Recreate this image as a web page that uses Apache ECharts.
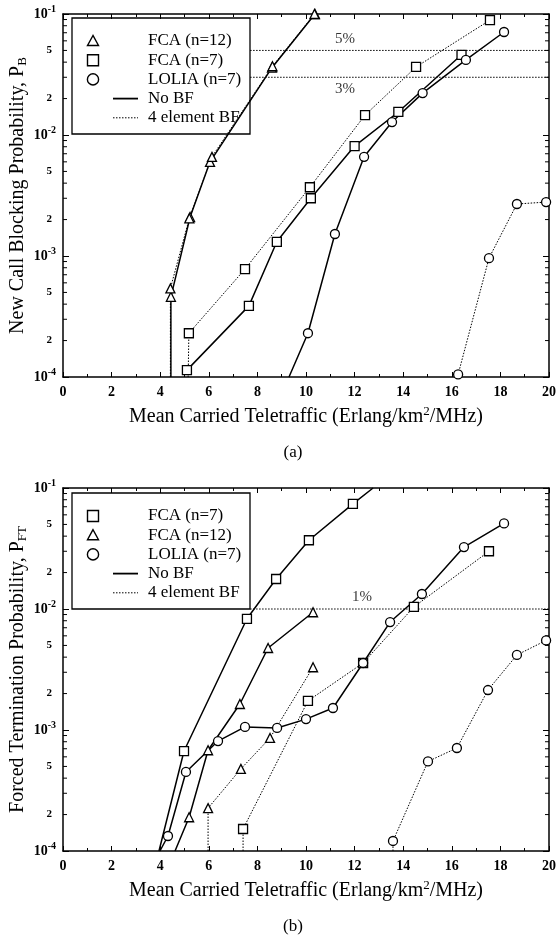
<!DOCTYPE html>
<html>
<head>
<meta charset="utf-8">
<script src="https://cdn.jsdelivr.net/npm/echarts@6/dist/echarts.min.js"></script>
<style>
html,body{margin:0;padding:0;background:#fff;}
#c{width:556px;height:940px;}
</style>
</head>
<body>
<div id="c"></div>
<script>
// ---------- data ----------
const xTicks = [0, 2, 4, 6, 8, 10, 12, 14, 16, 18, 20];
const minorMantissas = [2, 3, 4, 5, 6, 7, 8, 9];
const labelledMantissas = [2, 5];
const decades = [1e-4, 1e-3, 1e-2];

// (a) New call blocking probability, [x, P_B, marker(1)/no marker(0)]
const a_fca12_noBF = [[4.44, 1e-4, 0], [4.44, 4.6e-4, 1], [5.23, 2.1e-3, 1], [6.05, 6.0e-3, 1], [8.6, 3.6e-2, 1], [10.37, 0.1, 1]];
const a_fca12_BF   = [[4.42, 1e-4, 0], [4.42, 5.4e-4, 1], [5.2, 2.05e-3, 1], [6.13, 6.6e-3, 1], [8.62, 3.7e-2, 1], [10.35, 0.1, 1]];
const a_fca7_noBF  = [[5.1, 1.14e-4, 1], [7.65, 3.87e-4, 1], [8.8, 1.31e-3, 1], [10.2, 3.0e-3, 1], [12.0, 8.1e-3, 1], [13.8, 1.55e-2, 1], [16.4, 4.6e-2, 1]];
const a_fca7_BF    = [[5.15, 1e-4, 0], [5.18, 2.3e-4, 1], [7.49, 7.8e-4, 1], [10.16, 3.7e-3, 1], [12.43, 1.46e-2, 1], [14.53, 3.65e-2, 1], [17.57, 8.9e-2, 1]];
const a_lolia_noBF = [[9.3, 1e-4, 0], [10.08, 2.3e-4, 1], [11.19, 1.52e-3, 1], [12.39, 6.6e-3, 1], [13.54, 1.28e-2, 1], [14.8, 2.22e-2, 1], [16.58, 4.17e-2, 1], [18.15, 7.1e-2, 1]];
const a_lolia_BF   = [[16.26, 1.05e-4, 1], [17.53, 9.6e-4, 1], [18.68, 2.69e-3, 1], [19.88, 2.79e-3, 1]];
const a_refLevels = [0.05, 0.03];
const a_refLabels = ['5%', '3%'];
const a_refStartX = 7.7;
const a_refLabelX = 11.6;

// (b) Forced termination probability, [x, P_FT, marker]
const b_fca7_noBF  = [[3.95, 1e-4, 0], [4.98, 6.7e-4, 1], [7.57, 8.3e-3, 1], [8.77, 1.77e-2, 1], [10.12, 3.7e-2, 1], [11.93, 7.4e-2, 1], [12.76, 0.1, 0]];
const b_fca7_BF    = [[7.41, 1e-4, 0], [7.41, 1.52e-4, 1], [10.08, 1.74e-3, 1], [12.35, 3.58e-3, 1], [14.44, 1.04e-2, 1], [17.53, 3.0e-2, 1]];
const b_fca12_noBF = [[4.61, 1e-4, 0], [5.19, 1.9e-4, 1], [5.97, 6.8e-4, 1], [7.28, 1.64e-3, 1], [8.44, 4.76e-3, 1], [10.29, 9.4e-3, 1]];
const b_fca12_BF   = [[5.97, 1e-4, 0], [5.97, 2.26e-4, 1], [7.32, 4.77e-4, 1], [8.52, 8.6e-4, 1], [10.29, 3.3e-3, 1]];
const b_lolia_noBF = [[3.99, 1e-4, 0], [4.32, 1.33e-4, 1], [5.06, 4.5e-4, 1], [6.38, 8.1e-4, 1], [7.49, 1.06e-3, 1], [8.81, 1.04e-3, 1], [10.0, 1.23e-3, 1], [11.11, 1.52e-3, 1], [12.35, 3.58e-3, 1], [13.46, 7.8e-3, 1], [14.77, 1.33e-2, 1], [16.5, 3.25e-2, 1], [18.15, 5.1e-2, 1]];
const b_lolia_BF   = [[13.58, 1e-4, 0], [13.58, 1.21e-4, 1], [15.02, 5.5e-4, 1], [16.21, 7.1e-4, 1], [17.49, 2.14e-3, 1], [18.68, 4.17e-3, 1], [19.88, 5.5e-3, 1]];
const b_refLevels = [0.01];
const b_refLabels = ['1%'];
const b_refStartX = 7.7;
const b_refLabelX = 12.3;

// legends
const legendA = ['FCA (n=12)', 'FCA (n=7)', 'LOLIA (n=7)', 'No BF', '4 element BF'];
const legendAIcons = ['triangle', 'rect', 'circle', 'solid', 'dotted'];
const legendB = ['FCA (n=7)', 'FCA (n=12)', 'LOLIA (n=7)', 'No BF', '4 element BF'];
const legendBIcons = ['rect', 'triangle', 'circle', 'solid', 'dotted'];

// ---------- chart ----------
const SERIF = '"Liberation Serif", "DejaVu Serif", serif';
const chart = echarts.init(document.getElementById('c'), null, {renderer: 'canvas'});

const grids = [
  {left: 63, top: 14, width: 486, height: 363, containLabel: false, outerBoundsMode: 'none'},
  {left: 63, top: 488, width: 486, height: 363, containLabel: false, outerBoundsMode: 'none'}
];

function xAxisPair(gi, title) {
  const common = {
    type: 'value', gridIndex: gi, min: 0, max: 20, interval: 2,
    axisLine: {show: true, onZero: false, lineStyle: {color: '#000', width: 1.5}},
    axisTick: {show: true, inside: true, length: 5, lineStyle: {color: '#000', width: 1}},
    minorTick: {show: true, splitNumber: 2, length: 3, lineStyle: {color: '#000', width: 1}},
    splitLine: {show: false}
  };
  return [
    Object.assign({}, common, {
      position: 'bottom',
      axisLabel: {show: true, margin: 8, color: '#000', fontFamily: SERIF, fontSize: 14, fontWeight: 'bold',
        formatter: function (v) { return xTicks.indexOf(v) >= 0 ? String(v) : ''; }},
      name: title, nameLocation: 'middle', nameGap: 28, nameMoveOverlap: false,
      nameTextStyle: {color: '#000', fontFamily: SERIF, fontSize: 20,
        rich: {n: {fontFamily: SERIF, fontSize: 20, color: '#000'},
               s: {fontFamily: SERIF, fontSize: 13, color: '#000', padding: [0, 0, 10, 0]}}}
    }),
    Object.assign({}, common, {position: 'top', axisLabel: {show: false}})
  ];
}
function yAxisPair(gi, title) {
  const common = {
    type: 'log', logBase: 10, gridIndex: gi, min: 1e-4, max: 1e-1,
    axisLine: {show: true, onZero: false, lineStyle: {color: '#000', width: 1.5}},
    axisTick: {show: true, inside: true, length: 6, lineStyle: {color: '#000', width: 1}},
    splitLine: {show: false}
  };
  return [
    Object.assign({}, common, {
      position: 'left',
      axisLabel: {show: true, margin: 7, color: '#000',
        formatter: function (v) { return '{b|10}{s|' + Math.round(Math.log10(v)) + '}'; },
        rich: {b: {fontFamily: SERIF, fontSize: 14, fontWeight: 'bold', color: '#000'},
               s: {fontFamily: SERIF, fontSize: 10, fontWeight: 'bold', color: '#000', padding: [0, 0, 9, 0]}}},
      name: title, nameLocation: 'middle', nameGap: 34, nameRotate: 90, nameMoveOverlap: false,
      nameTextStyle: {color: '#000', fontFamily: SERIF, fontSize: 20,
        rich: {n: {fontFamily: SERIF, fontSize: 20, color: '#000'},
               sub: {fontFamily: SERIF, fontSize: 13, color: '#000', padding: [9, 0, 0, 0]}}}
    }),
    Object.assign({}, common, {position: 'right', axisLabel: {show: false}})
  ];
}

const xTitle = '{n|Mean Carried Teletraffic (Erlang/km}{s|2}{n|/MHz)}';
const xAxes = xAxisPair(0, xTitle).concat(xAxisPair(1, xTitle));
const yAxes = yAxisPair(0, '{n|New Call Blocking Probability, P}{sub|B}')
  .concat(yAxisPair(1, '{n|Forced Termination Probability, P}{sub|FT}'));

const symMap = {tri: 'triangle', sq: 'rect', ci: 'circle'};
function lineSeries(pts, sym, dotted, axisIdx) {
  return {
    type: 'line', xAxisIndex: axisIdx, yAxisIndex: axisIdx,
    data: pts.map(p => ({value: [p[0], p[1]], symbol: p[2] ? symMap[sym] : 'none'})),
    symbolSize: 9,
    showAllSymbol: true,
    lineStyle: {color: '#000', width: dotted ? 1 : 1.5, type: dotted ? [1.5, 1.5] : 'solid'},
    itemStyle: {color: '#fff', borderColor: '#000', borderWidth: 1.3},
    emphasis: {disabled: true}, animation: false, clip: true, z: 3
  };
}

function refSeries(levels, labels, startX, labelX, axisIdx, positions) {
  const s = [];
  levels.forEach((lv) => {
    s.push({
      type: 'line', xAxisIndex: axisIdx, yAxisIndex: axisIdx,
      data: [[startX, lv], [20, lv]], symbol: 'none',
      lineStyle: {color: '#000', width: 1, type: [1.5, 1.5]},
      animation: false, z: 2
    });
  });
  s.push({
    type: 'scatter', xAxisIndex: axisIdx, yAxisIndex: axisIdx,
    data: levels.map((lv, i) => ({value: [labelX, lv], label: {formatter: labels[i], position: positions[i]}})),
    symbolSize: 0,
    label: {show: true, color: '#000', fontFamily: SERIF, fontSize: 15, distance: 4},
    animation: false, z: 2
  });
  return s;
}

function minorTickSeries(axisIdx) {
  const d = [];
  decades.forEach(dec => minorMantissas.forEach(m => d.push([0, m * dec, m])));
  return {
    type: 'custom', xAxisIndex: axisIdx, yAxisIndex: axisIdx, clip: false, animation: false, silent: true,
    data: d,
    encode: {x: 0, y: 1},
    renderItem: function (params, api) {
      const pl = api.coord([0, api.value(1)]);
      const pr = api.coord([20, api.value(1)]);
      const m = api.value(2);
      const children = [
        {type: 'line', shape: {x1: pl[0], y1: pl[1], x2: pl[0] + 4, y2: pl[1]}, style: {stroke: '#000', lineWidth: 1}},
        {type: 'line', shape: {x1: pr[0] - 4, y1: pr[1], x2: pr[0], y2: pr[1]}, style: {stroke: '#000', lineWidth: 1}}
      ];
      if (labelledMantissas.indexOf(m) >= 0) {
        children.push({type: 'text', style: {text: String(m), x: pl[0] - 11, y: pl[1], align: 'right', verticalAlign: 'middle',
          font: 'bold 11px ' + SERIF, fill: '#000'}});
      }
      return {type: 'group', children: children};
    }
  };
}

const series = [
  lineSeries(a_fca12_noBF, 'tri', false, 0),
  lineSeries(a_fca12_BF, 'tri', true, 0),
  lineSeries(a_fca7_noBF, 'sq', false, 0),
  lineSeries(a_fca7_BF, 'sq', true, 0),
  lineSeries(a_lolia_noBF, 'ci', false, 0),
  lineSeries(a_lolia_BF, 'ci', true, 0),
  lineSeries(b_fca7_noBF, 'sq', false, 2),
  lineSeries(b_fca7_BF, 'sq', true, 2),
  lineSeries(b_fca12_noBF, 'tri', false, 2),
  lineSeries(b_fca12_BF, 'tri', true, 2),
  lineSeries(b_lolia_noBF, 'ci', false, 2),
  lineSeries(b_lolia_BF, 'ci', true, 2)
].concat(refSeries(a_refLevels, a_refLabels, a_refStartX, a_refLabelX, 0, ['top', 'bottom']))
 .concat(refSeries(b_refLevels, b_refLabels, b_refStartX, b_refLabelX, 2, ['top']))
 .concat([minorTickSeries(0), minorTickSeries(2)]);

function legendGraphic(x, y, names, icons) {
  const ch = [{type: 'rect', shape: {x: 0, y: 0, width: 178, height: 116},
    style: {fill: '#fff', stroke: '#000', lineWidth: 1.3}}];
  names.forEach((nm, i) => {
    const cy = 23 + i * 19.2;
    const ic = icons[i];
    if (ic === 'triangle') {
      ch.push({type: 'polygon', shape: {points: [[21, cy - 5.5], [15.5, cy + 4.5], [26.5, cy + 4.5]]}, style: {fill: '#fff', stroke: '#000', lineWidth: 1.4}});
    } else if (ic === 'rect') {
      ch.push({type: 'rect', shape: {x: 15.5, y: cy - 5.5, width: 11, height: 11}, style: {fill: '#fff', stroke: '#000', lineWidth: 1.4}});
    } else if (ic === 'circle') {
      ch.push({type: 'circle', shape: {cx: 21, cy: cy, r: 5.6}, style: {fill: '#fff', stroke: '#000', lineWidth: 1.4}});
    } else if (ic === 'solid') {
      ch.push({type: 'line', shape: {x1: 41, y1: cy, x2: 66, y2: cy}, style: {stroke: '#000', lineWidth: 1.8}});
    } else {
      ch.push({type: 'line', shape: {x1: 41, y1: cy, x2: 66, y2: cy}, style: {stroke: '#000', lineWidth: 1, lineDash: [1.5, 1.5]}});
    }
    ch.push({type: 'text', style: {text: nm, x: 76, y: cy, verticalAlign: 'middle', font: '17px ' + SERIF, fill: '#000'}});
  });
  return {type: 'group', x: x, y: y, z: 100, children: ch};
}

const option = {
  backgroundColor: '#fff',
  animation: false,
  grid: grids,
  xAxis: xAxes,
  yAxis: yAxes,
  series: series,
  graphic: [
    legendGraphic(72, 18, legendA, legendAIcons),
    legendGraphic(72, 493, legendB, legendBIcons),
    {type: 'text', x: 293, y: 453, style: {text: '(a)', align: 'center', verticalAlign: 'middle', font: '17px ' + SERIF, fill: '#000'}},
    {type: 'text', x: 293, y: 927, style: {text: '(b)', align: 'center', verticalAlign: 'middle', font: '17px ' + SERIF, fill: '#000'}}
  ]
};
chart.setOption(option);
</script>
</body>
</html>
